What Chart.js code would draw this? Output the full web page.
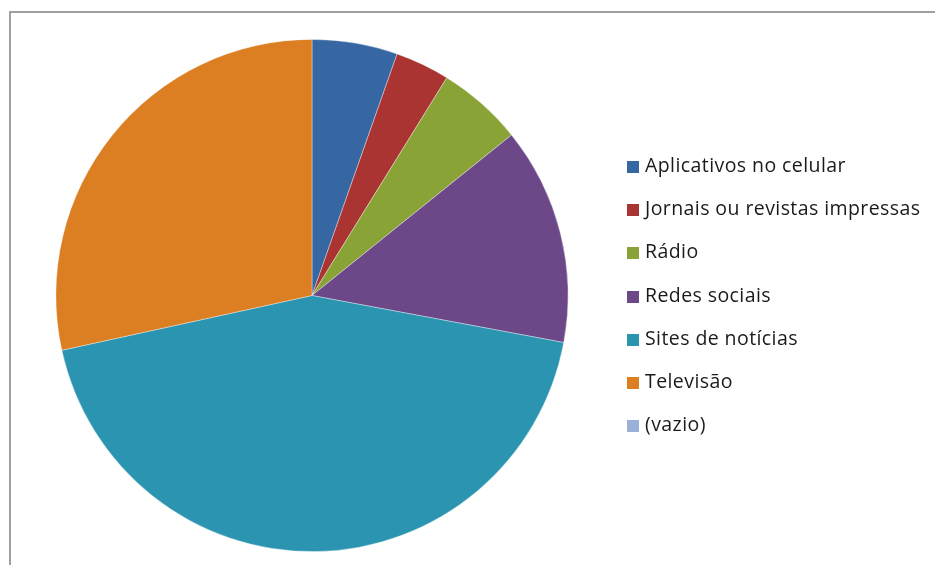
<!DOCTYPE html>
<html>
<head>
<meta charset="utf-8">
<script src="https://cdn.jsdelivr.net/npm/chart.js@4.4.1/dist/chart.umd.min.js"></script>
<style>
  html, body { margin: 0; padding: 0; background: #fff; width: 935px; height: 565px; overflow: hidden; }
  #frame { position: absolute; left: 9px; top: 11px; width: 2000px; height: 2000px;
           border-left: 2px solid #a0a0a0; border-top: 2px solid #a0a0a0; }
  #wrap { position: absolute; left: 0; top: 0; width: 935px; height: 565px; }
  #legend { position: absolute; left: 627px; top: 151px; margin: 0; padding: 0; list-style: none;
            font-family: "Open Sans", Lato, sans-serif; font-size: 19.5px; letter-spacing: 0.42px; color: #1a1a1a; }
  #legend li { height: 43.2px; line-height: 27px; display: flex; align-items: flex-start; white-space: nowrap; }
  #legend .box { width: 12px; height: 12px; margin-top: 10px; margin-right: 6px; flex: none; }
</style>
</head>
<body>
<div id="frame"></div>
<div id="wrap"><canvas id="c" width="935" height="565"></canvas></div>
<ul id="legend"></ul>
<script>
const categories = ["Aplicativos no celular", "Jornais ou revistas impressas", "Rádio", "Redes sociais", "Sites de notícias", "Televisão", "(vazio)"];
const values = [11, 7, 11, 28, 89, 58, 0];
const colors = ["#3767a3", "#aa3431", "#8aa337", "#6d4889", "#2b94b0", "#dc7e22", "#99b1d9"];

const chart = new Chart(document.getElementById('c'), {
  type: 'pie',
  data: {
    labels: categories,
    datasets: [{
      data: values,
      backgroundColor: colors,
      borderColor: 'rgba(255,255,255,0.45)',
      borderWidth: 0.8
    }]
  },
  options: {
    responsive: false,
    animation: false,
    rotation: 0,
    layout: { padding: { top: 39, bottom: 13, left: 0, right: 311 } },
    plugins: { legend: { display: false }, tooltip: { enabled: false } }
  }
});

const ul = document.getElementById('legend');
chart.data.labels.forEach((lab, i) => {
  const li = document.createElement('li');
  const b = document.createElement('span');
  b.className = 'box';
  b.style.background = chart.data.datasets[0].backgroundColor[i];
  const t = document.createElement('span');
  t.textContent = lab;
  li.appendChild(b); li.appendChild(t);
  ul.appendChild(li);
});
</script>
</body>
</html>
